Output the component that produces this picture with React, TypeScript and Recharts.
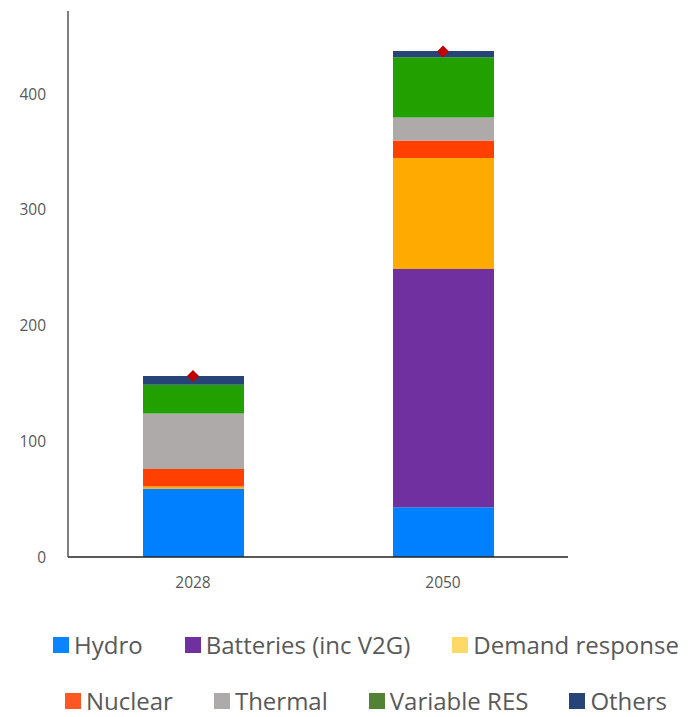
import React from "react";
import {
    ComposedChart,
    Bar,
    Scatter,
    XAxis,
    YAxis,
} from "recharts";

const years = ["2028", "2050"];
const hydro = [59, 43];
const batteries = [0, 206];
const demandResponse = [2, 96];
const nuclear = [15, 15];
const thermal = [48, 20];
const variableRes = [25, 52];
const others = [7.5, 5.5];
const totals = [156.5, 437];
const yTicks = [0, 100, 200, 300, 400];

const series = [
    { key: "hydro", name: "Hydro", color: "#0080ff", legend: "#0a84ff" },
    { key: "batteries", name: "Batteries (inc V2G)", color: "#7030a0", legend: "#7030a0" },
    { key: "demand", name: "Demand response", color: "#ffaa00", legend: "#ffd966" },
    { key: "nuclear", name: "Nuclear", color: "#ff4000", legend: "#ff5722" },
    { key: "thermal", name: "Thermal", color: "#aeaaaa", legend: "#aeaaaa" },
    { key: "variable", name: "Variable RES", color: "#22a000", legend: "#548235" },
    { key: "others", name: "Others", color: "#264478", legend: "#264478" },
];

const data = years.map((year, i) => ({
    year,
    hydro: hydro[i],
    batteries: batteries[i],
    demand: demandResponse[i],
    nuclear: nuclear[i],
    thermal: thermal[i],
    variable: variableRes[i],
    others: others[i],
    total: totals[i],
}));

const font = "'Open Sans', sans-serif";

// red diamond marking the total on top of each stack
function Diamond(props: any) {
    const { cx, cy } = props;
    const r = 6;
    return (
        <polygon
            points={`${cx},${cy - r} ${cx + r},${cy} ${cx},${cy + r} ${cx - r},${cy}`}
            fill="#c00000"
        />
    );
}

function LegendRows() {
    const rows = [series.slice(0, 3), series.slice(3)];
    const tops = [634, 690];
    return (
        <>
            {rows.map((row, r) => (
                <div
                    key={r}
                    style={{
                        position: "absolute",
                        left: 0,
                        top: tops[r],
                        display: "flex",
                        justifyContent: "center",
                        gap: r === 0 ? 42 : 41,
                        width: 692,
                        boxSizing: "border-box",
                        paddingLeft: 40,
                        height: 22,
                        lineHeight: "22px",
                        alignItems: "center",
                        fontFamily: font,
                        fontSize: 24,
                        color: "#595959",
                        whiteSpace: "nowrap",
                    }}
                >
                    {row.map((s) => (
                        <span key={s.key} style={{ display: "flex", alignItems: "center" }}>
                            <span
                                style={{
                                    width: 16,
                                    height: 16,
                                    background: s.legend,
                                    marginRight: 5,
                                    display: "inline-block",
                                }}
                            />
                            {s.name}
                        </span>
                    ))}
                </div>
            ))}
        </>
    );
}

export default function App() {
    return (
        <div style={{ position: "absolute", left: 0, top: 0, width: 692, height: 717, background: "#fff", overflow: "hidden" }}>
            <ComposedChart
                width={692}
                height={717}
                data={data}
                margin={{ top: 11, right: 124, bottom: 130, left: 0 }}
                barCategoryGap="0%"
            >
                <XAxis
                    dataKey="year"
                    height={30}
                    axisLine={{ stroke: "#222", strokeWidth: 1.5 }}
                    tickLine={false}
                    tick={{ fill: "#595959", fontSize: 15.5, fontFamily: font }}
                    tickMargin={14}
                />
                <YAxis
                    domain={[0, 472]}
                    ticks={yTicks}
                    width={68}
                    axisLine={{ stroke: "#555", strokeWidth: 1.5 }}
                    tickLine={false}
                    tickSize={0}
                    tickMargin={22}
                    tick={{ fill: "#595959", fontSize: 15.5, fontFamily: font }}
                />
                {series.map((s) => (
                    <Bar
                        key={s.key}
                        dataKey={s.key}
                        name={s.name}
                        stackId="a"
                        fill={s.color}
                        barSize={101}
                        isAnimationActive={false}
                    />
                ))}
                <Scatter
                    dataKey="total"
                    shape={<Diamond />}
                    legendType="none"
                    isAnimationActive={false}
                />
            </ComposedChart>
            <LegendRows />
        </div>
    );
}
